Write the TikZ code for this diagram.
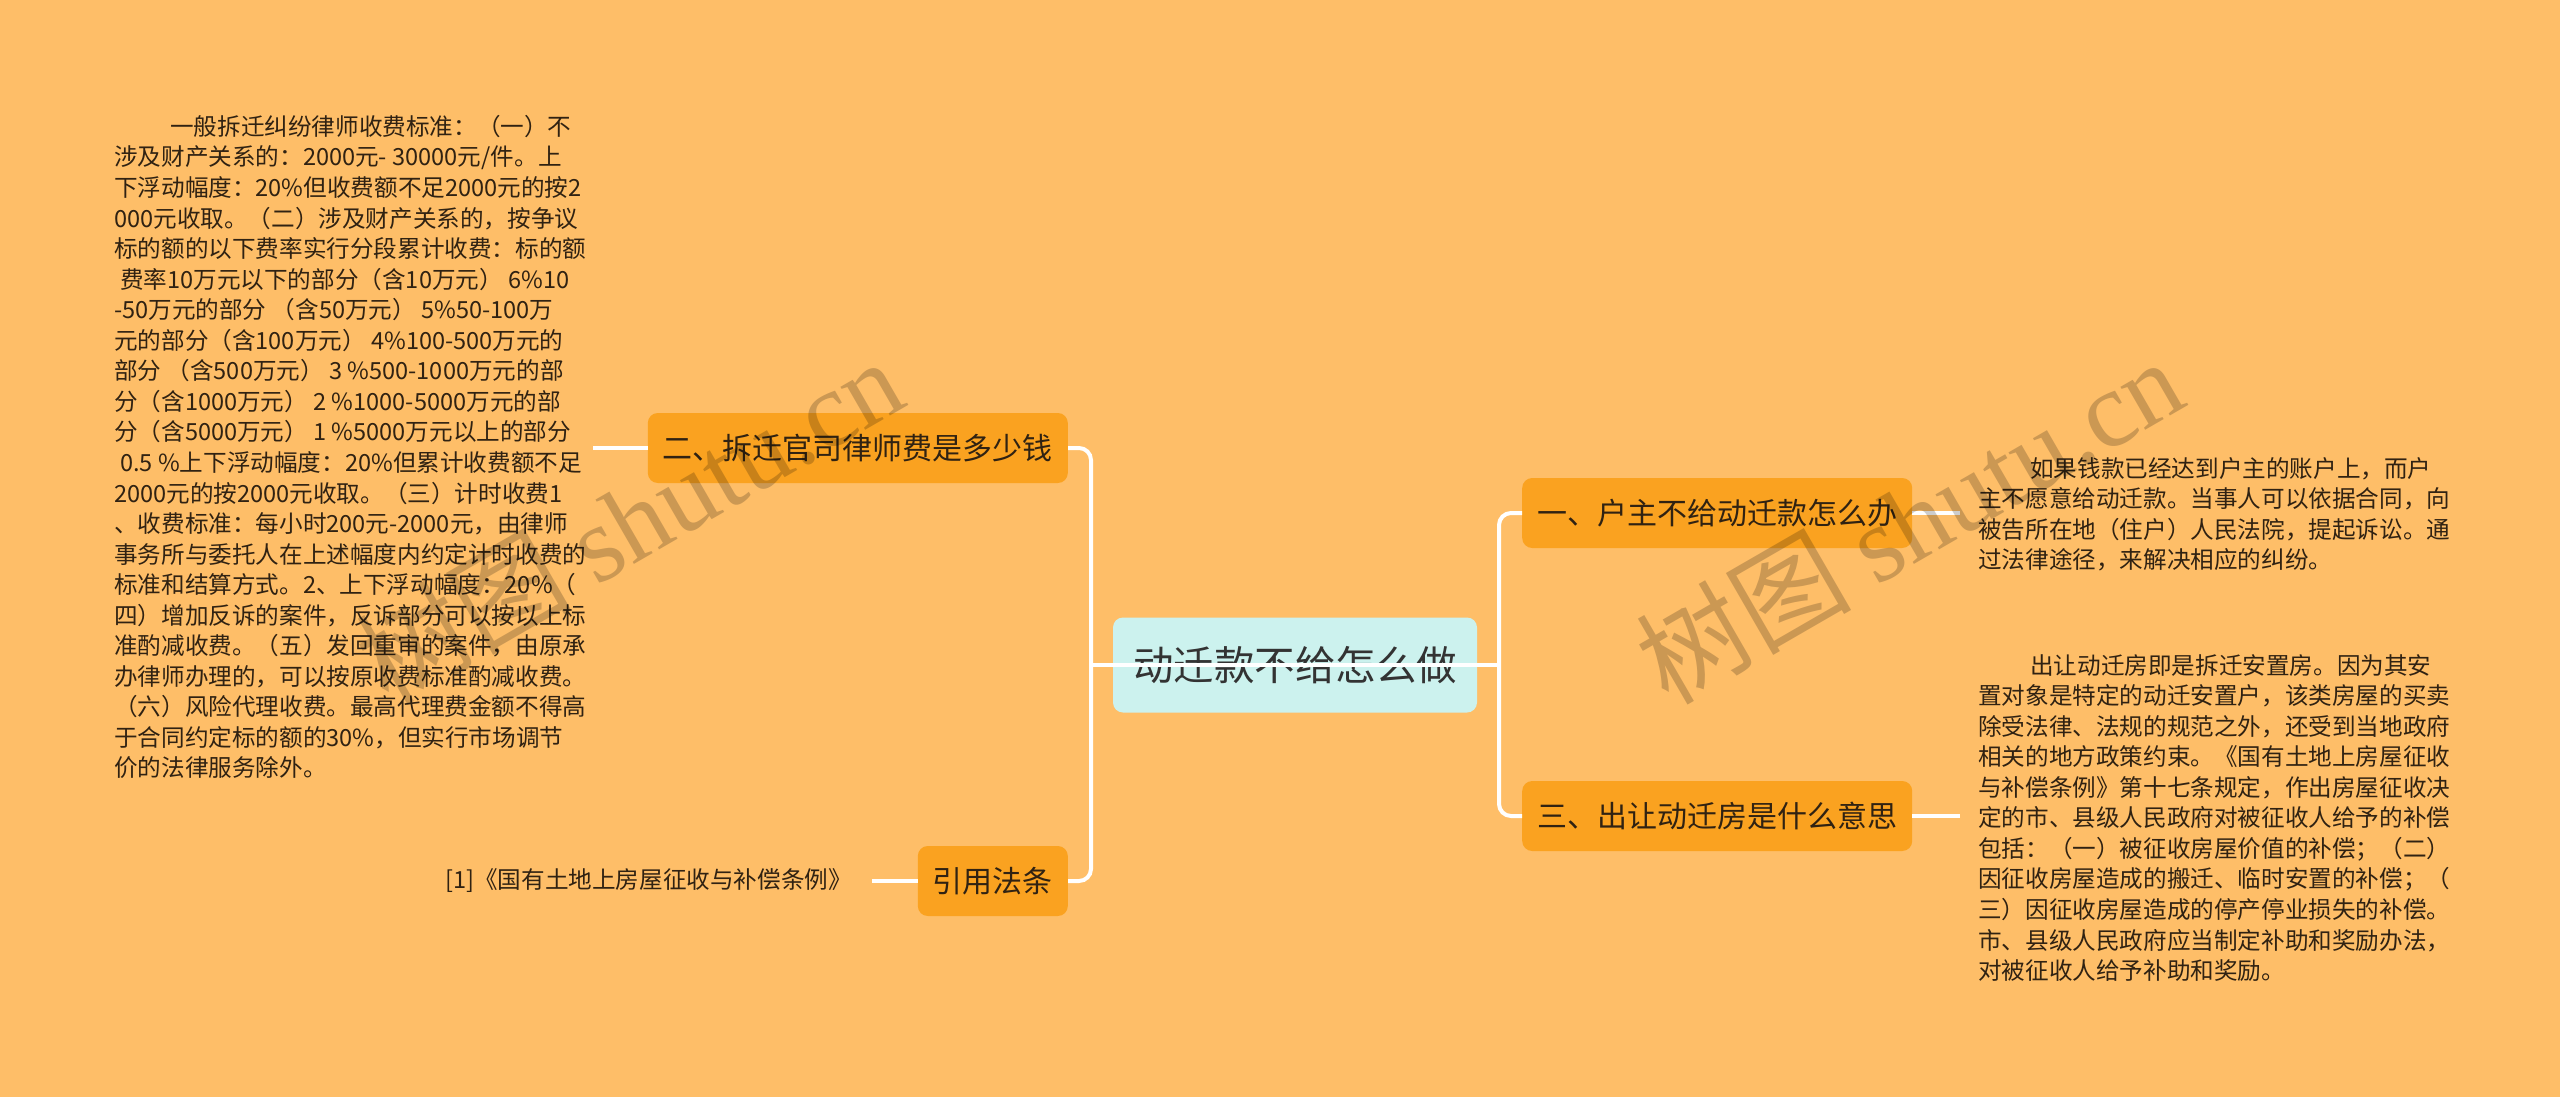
\documentclass[tikz,border=0pt]{standalone}
\usepackage{fontspec}
\setmainfont{Noto Sans CJK SC}
\newfontfamily\wmlatin{Liberation Serif}
\definecolor{bgorange}{RGB}{254,190,104}
\definecolor{boxorange}{RGB}{250,162,32}
\definecolor{rootcyan}{RGB}{204,242,238}
\definecolor{inkbrown}{RGB}{48,34,18}
\definecolor{rootink}{RGB}{51,51,51}
\begin{document}
\begin{tikzpicture}[x=1pt,y=-1pt,
		topic/.style={fill=boxorange, rounded corners=10pt, minimum height=70pt, inner xsep=15pt, text=inkbrown, font=\fontsize{30}{36}\selectfont},
		rootbox/.style={fill=rootcyan, rounded corners=10pt, minimum height=95pt, minimum width=364pt, text=rootink, font=\fontsize{40.5}{48}\selectfont},
		note/.style={inner sep=0pt, align=left, text=inkbrown, font=\fontsize{23.6}{30.55}\selectfont},
		link/.style={draw=white, line width=4pt, rounded corners=12pt},
		wmtext/.style={rotate=30, text=black, text opacity=.2, font=\fontsize{108}{120}\selectfont}]
		\useasboundingbox [fill=bgorange] (0,0) rectangle (2560,1097);
		% centre and the four topics
		\node [rootbox] (root) at (1295,665) {动迁款不给怎么做};
		\node [topic, anchor=west] (b1) at (1522,513) {一、户主不给动迁款怎么办};
		\node [topic, anchor=east] (b2) at (1068,448) {二、拆迁官司律师费是多少钱};
		\node [topic, anchor=west] (b3) at (1522,816) {三、出让动迁房是什么意思};
		\node [topic, anchor=east] (b4) at (1068,881) {引用法条};
		% notes
		\node [note, anchor=north west] (t2) at (114,115) {\hspace*{56pt}一般拆迁纠纷律师收费标准：（一）不\\
			涉及财产关系的：2000元- 30000元/件。上\\
			下浮动幅度：20\%但收费额不足2000元的按2\\
			000元收取。（二）涉及财产关系的，按争议\\
			标的额的以下费率实行分段累计收费：标的额\\
			\hspace*{6pt}费率10万元以下的部分（含10万元） 6\%10\\
			-50万元的部分 （含50万元） 5\%50-100万\\
			元的部分（含100万元） 4\%100-500万元的\\
			部分 （含500万元） 3 \%500-1000万元的部\\
			分（含1000万元） 2 \%1000-5000万元的部\\
			分（含5000万元） 1 \%5000万元以上的部分\\
			\hspace*{6pt}0.5 \%上下浮动幅度：20\%但累计收费额不足\\
			2000元的按2000元收取。（三）计时收费1\\
			、收费标准：每小时200元-2000元，由律师\\
			事务所与委托人在上述幅度内约定计时收费的\\
			标准和结算方式。2、上下浮动幅度：20\%（\\
			四）增加反诉的案件，反诉部分可以按以上标\\
			准酌减收费。（五）发回重审的案件，由原承\\
			办律师办理的，可以按原收费标准酌减收费。\\
			（六）风险代理收费。最高代理费金额不得高\\
			于合同约定标的额的30\%，但实行市场调节\\
			价的法律服务除外。};
		\node [note, anchor=east] (cite) at (852,881) {[1]《国有土地上房屋征收与补偿条例》};
		\node [note, anchor=north west] (t1) at (1978,457) {\hspace*{52pt}如果钱款已经达到户主的账户上，而户\\
			主不愿意给动迁款。当事人可以依据合同，向\\
			被告所在地（住户）人民法院，提起诉讼。通\\
			过法律途径，来解决相应的纠纷。};
		\node [note, anchor=north west] (t3) at (1978,654) {\hspace*{52pt}出让动迁房即是拆迁安置房。因为其安\\
			置对象是特定的动迁安置户，该类房屋的买卖\\
			除受法律、法规的规范之外，还受到当地政府\\
			相关的地方政策约束。《国有土地上房屋征收\\
			与补偿条例》第十七条规定，作出房屋征收决\\
			定的市、县级人民政府对被征收人给予的补偿\\
			包括：（一）被征收房屋价值的补偿；（二）\\
			因征收房屋造成的搬迁、临时安置的补偿；（\\
			三）因征收房屋造成的停产停业损失的补偿。\\
			市、县级人民政府应当制定补助和奖励办法，\\
			对被征收人给予补助和奖励。};
		% connectors
		\coordinate (ltrunk) at (1091,665);
		\coordinate (rtrunk) at (1499,665);
		\draw [link] (b2.east) -| (ltrunk) |- (b4.east);
		\draw [link] (b1.west) -| (rtrunk) |- (b3.west);
		\draw [link] (ltrunk) -- (rtrunk);
		\draw [link, shorten >=7pt] (b2.west) -- (t2.east |- b2.west);
		\draw [link, shorten >=20pt] (b4.west) -- (cite.east);
		\draw [link, shorten >=18pt] (b1.east) -- (t1.west |- b1.east);
		\draw [link, shorten >=18pt] (b3.east) -- (t3.west |- b3.east);
		% watermarks
		\node [wmtext] (wm1) at (629,520) {树图 {\wmlatin shutu.cn}};
		\node [wmtext] (wm2) at (1909,520) {树图 {\wmlatin shutu.cn}};
	\end{tikzpicture}
\end{document}
